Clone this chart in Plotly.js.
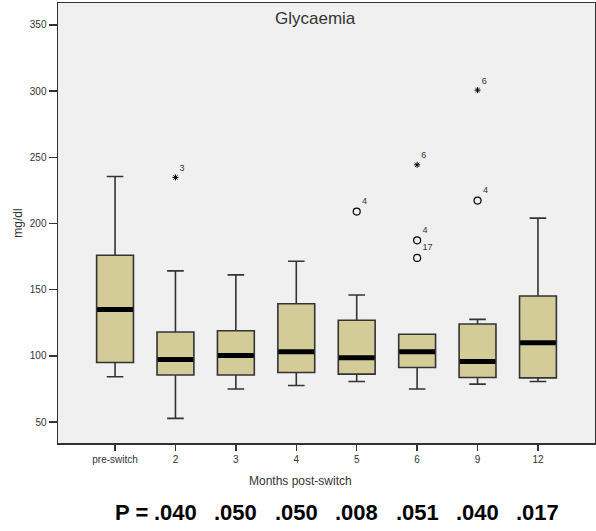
<!DOCTYPE html>
<html>
<head>
<meta charset="utf-8">
<script src="https://cdn.plot.ly/plotly-3.0.1.min.js"></script>
<style>html,body{margin:0;padding:0;background:#fff;}#chart{width:596px;height:531px;}</style>
</head>
<body>
<div id="chart"></div>
<script>
// Data
const categories = ['pre-switch', '2', '3', '4', '5', '6', '9', '12'];
const lowerFence = [84.2, 52.8, 75.0, 77.6, 80.7, 75.0, 78.7, 80.7];
const q1Values   = [95.0, 85.5, 85.5, 87.4, 86.2, 91.2, 83.7, 83.4];
const medians    = [135.0, 97.2, 100.2, 103.2, 98.5, 103.2, 95.7, 110.0];
const q3Values   = [176.0, 118.0, 119.0, 139.4, 126.9, 116.3, 124.1, 145.2];
const upperFence = [235.5, 164.2, 161.2, 171.5, 146.0, 116.3, 127.6, 204.0];

const extremeCats   = ['2', '6', '9'];
const extremeValues = [234.8, 244.3, 300.7];
const extremeLabels = ['3', '6', '6'];

const outlierCats   = ['5', '6', '6', '9'];
const outlierValues = [209.0, 187.3, 174.0, 217.3];
const outlierLabels = ['4', '4', '17', '4'];

const pCats   = ['2', '3', '4', '5', '6', '9', '12'];
const pValues = ['.040', '.050', '.050', '.008', '.051', '.040', '.017'];

const ink = '#333333';
const boxFill = '#d3cc99';

const traces = [
  {
    type: 'box',
    x: categories,
    q1: q1Values,
    median: medians,
    q3: q3Values,
    lowerfence: lowerFence,
    upperfence: upperFence,
    width: 0.61,
    whiskerwidth: 0.45,
    fillcolor: boxFill,
    line: {color: ink, width: 1.6},
    hoverinfo: 'skip',
    showlegend: false
  },
  {
    type: 'scatter',
    mode: 'markers',
    x: categories,
    y: medians,
    marker: {symbol: 'line-ew-open', size: 25.5, color: '#000', line: {color: '#000', width: 5}},
    hoverinfo: 'skip',
    showlegend: false
  },
  {
    type: 'scatter',
    mode: 'markers+text',
    x: extremeCats,
    y: extremeValues,
    text: extremeLabels,
    textposition: 'top right',
    textfont: {family: 'Liberation Sans, Arial, sans-serif', size: 9, color: ink},
    marker: {symbol: 'asterisk-open', size: 5, color: '#000', line: {color: '#222', width: 1}},
    hoverinfo: 'skip',
    showlegend: false
  },
  {
    type: 'scatter',
    mode: 'markers+text',
    x: outlierCats,
    y: outlierValues,
    text: outlierLabels,
    textposition: 'top right',
    textfont: {family: 'Liberation Sans, Arial, sans-serif', size: 9, color: ink},
    marker: {symbol: 'circle-open', size: 7, color: '#000', line: {color: '#222', width: 1.2}},
    hoverinfo: 'skip',
    showlegend: false
  }
];

const pFont = {family: 'Liberation Sans, Arial, sans-serif', size: 22, color: '#000'};
const annotations = [
  {text: 'Glycaemia', xref: 'paper', yref: 'paper', x: 0.48, y: 0.965, xanchor: 'center', yanchor: 'middle',
   showarrow: false, font: {family: 'Liberation Sans, Arial, sans-serif', size: 17, color: ink}},
  {text: 'Months post-switch', xref: 'paper', yref: 'paper', x: 0.452, y: -0.087, xanchor: 'center', yanchor: 'middle',
   showarrow: false, font: {family: 'Liberation Sans, Arial, sans-serif', size: 12, color: ink}},
  {text: '<b>P =</b>', xref: 'x', yref: 'paper', x: categories.indexOf(pCats[0]), xshift: -25, y: -0.159,
   xanchor: 'right', yanchor: 'middle', showarrow: false, font: pFont}
];
pCats.forEach(function (c, i) {
  annotations.push({text: '<b>' + pValues[i] + '</b>', xref: 'x', yref: 'paper', x: categories.indexOf(c), y: -0.159,
    xanchor: 'center', yanchor: 'middle', showarrow: false, font: pFont});
});

const layout = {
  width: 596, height: 531,
  margin: {l: 58, r: 1, t: 3, b: 88},
  paper_bgcolor: '#ffffff',
  plot_bgcolor: '#f0f0f0',
  showlegend: false,
  xaxis: {
    type: 'category',
    categoryorder: 'array', categoryarray: categories,
    range: [-0.944, 7.944],
    showgrid: false, zeroline: false,
    showline: true, mirror: true, linecolor: ink, linewidth: 1.5,
    ticks: 'outside', ticklen: 6, tickcolor: ink, tickwidth: 1.3,
    tickfont: {family: 'Liberation Sans, Arial, sans-serif', size: 10, color: ink}
  },
  yaxis: {
    range: [34.2, 366.5],
    tickvals: [50, 100, 150, 200, 250, 300, 350],
    showgrid: false, zeroline: false,
    showline: true, mirror: true, linecolor: ink, linewidth: 1.5,
    ticks: 'outside', ticklen: 8, tickcolor: ink, tickwidth: 1.3,
    tickfont: {family: 'Liberation Sans, Arial, sans-serif', size: 10, color: ink},
    title: {text: 'mg/dl', standoff: 4, font: {family: 'Liberation Sans, Arial, sans-serif', size: 12, color: ink}}
  },
  annotations: annotations
};

Plotly.newPlot('chart', traces, layout, {displayModeBar: false, staticPlot: true});
</script>
</body>
</html>
